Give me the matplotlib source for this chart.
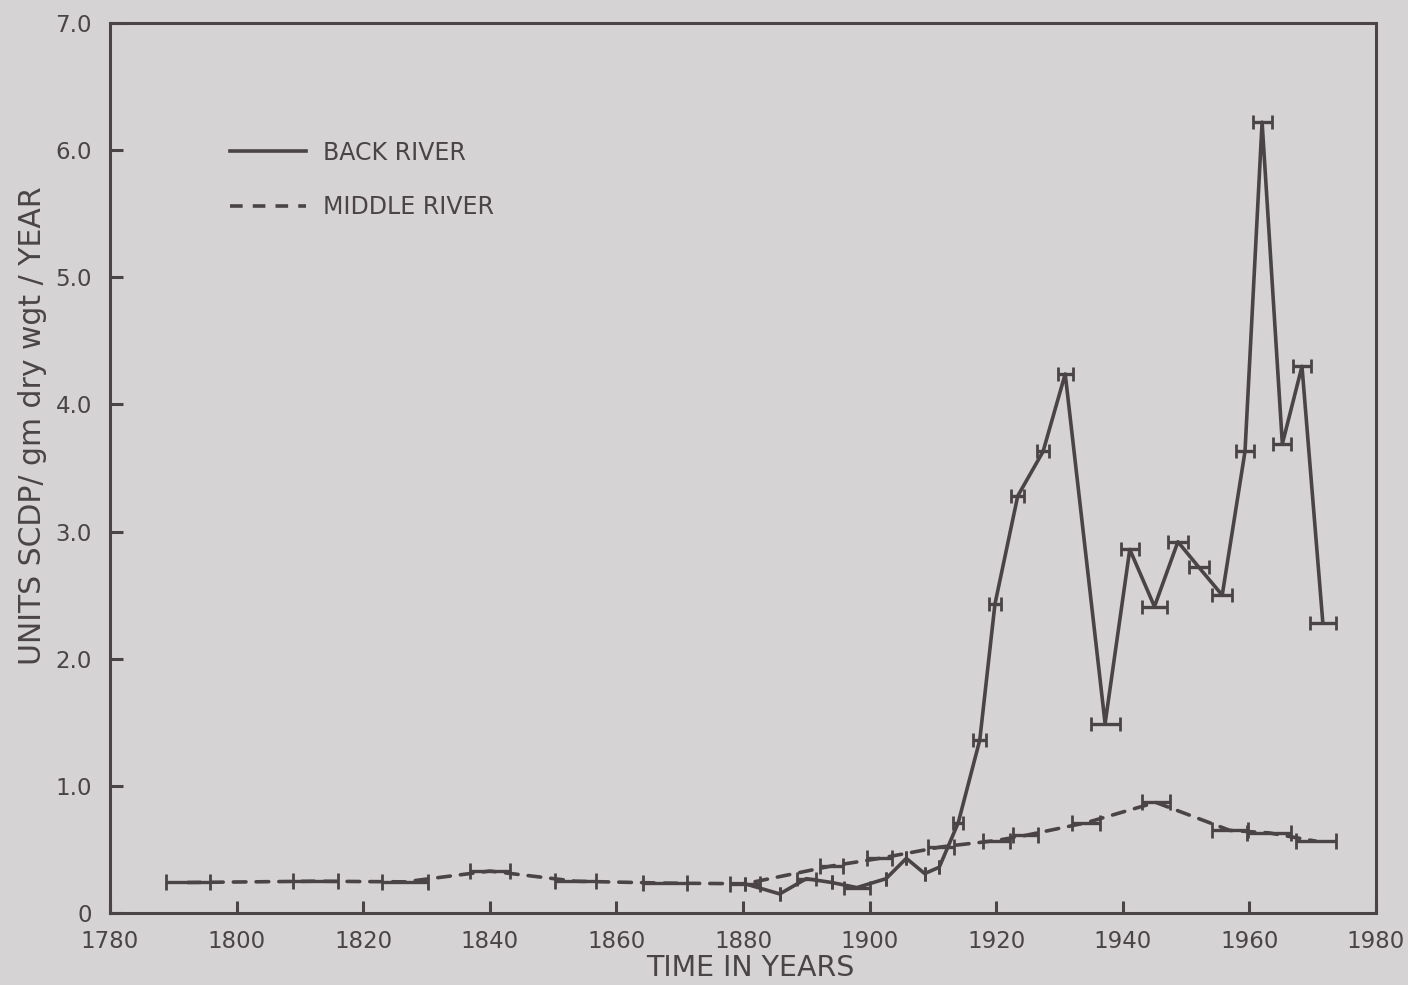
import matplotlib
matplotlib.use("Agg")
import matplotlib.pyplot as plt
from matplotlib.lines import Line2D

# ---- data ----
back_years = [1880.3, 1885.8, 1890.0, 1894.0, 1898.0, 1902.6, 1905.8, 1908.7, 1911.0,
              1914.0, 1917.4, 1919.8, 1923.4, 1927.4, 1930.9, 1937.2, 1941.1, 1945.0,
              1948.7, 1952.0, 1955.7, 1959.3, 1962.0, 1965.2, 1968.3, 1971.6]
back_vals = [0.23, 0.15, 0.27, 0.24, 0.20, 0.27, 0.43, 0.31, 0.36,
             0.71, 1.36, 2.43, 3.28, 3.63, 4.24, 1.49, 2.86, 2.41,
             2.92, 2.72, 2.50, 3.63, 6.22, 3.69, 4.30, 2.28]
back_xerr = [0.0, 0.0, 1.5, 0.0, 2.1, 0.0, 0.0, 0.0, 0.0,
             0.8, 1.0, 1.0, 1.0, 1.0, 1.2, 2.3, 1.4, 1.9,
             1.6, 1.6, 1.6, 1.4, 1.5, 1.4, 1.4, 2.0]

mid_years = [1792.3, 1812.5, 1826.6, 1840.0, 1853.5, 1867.7, 1880.3, 1894.0, 1901.6,
             1911.3, 1920.0, 1924.6, 1934.2, 1945.2, 1956.9, 1963.1, 1970.5]
mid_vals = [0.24, 0.25, 0.245, 0.33, 0.25, 0.235, 0.23, 0.37, 0.43,
            0.52, 0.57, 0.61, 0.71, 0.87, 0.65, 0.63, 0.565]
mid_xerr = [3.5, 3.6, 3.6, 3.2, 3.2, 3.5, 2.4, 1.8, 2.0,
            2.1, 2.1, 2.0, 2.2, 2.2, 2.8, 3.5, 3.2]

x_ticks = [1780, 1800, 1820, 1840, 1860, 1880, 1900, 1920, 1940, 1960, 1980]
y_ticks = [0, 1, 2, 3, 4, 5, 6, 7]
y_ticklabels = ["0", "1.0", "2.0", "3.0", "4.0", "5.0", "6.0", "7.0"]
series_labels = ["BACK RIVER", "MIDDLE RIVER"]

BG = "#d6d3d4"
INK = "#4a4446"

plt.rcParams["font.family"] = ["DejaVu Sans"]

fig = plt.figure(figsize=(14.08, 9.85), dpi=100, facecolor=BG)
ax = fig.add_axes([0.0781, 0.0731, 0.8992, 0.9035])
ax.set_facecolor(BG)

# Middle river: dashed connecting line + solid horizontal error bars
ax.plot(mid_years, mid_vals, color=INK, lw=2.6, linestyle=(0, (3.5, 2.8)),
        dash_capstyle="round", zorder=2)
ax.errorbar(mid_years, mid_vals, xerr=mid_xerr, fmt="none", ecolor=INK,
            elinewidth=2.4, capsize=6, capthick=2, zorder=3)

# Back river: solid line + error bars
ax.plot(back_years, back_vals, color=INK, lw=2.6, zorder=4)
ax.errorbar(back_years, back_vals, xerr=back_xerr, fmt="none", ecolor=INK,
            elinewidth=2.4, capsize=5, capthick=2, zorder=5)

ax.set_xlim(x_ticks[0], x_ticks[-1])
ax.set_ylim(y_ticks[0], y_ticks[-1])
ax.set_xticks(x_ticks)
ax.set_xticklabels([str(t) for t in x_ticks])
ax.set_yticks(y_ticks)
ax.set_yticklabels(y_ticklabels)

for s in ax.spines.values():
    s.set_color(INK)
    s.set_linewidth(2.2)

ax.tick_params(axis="both", direction="in", length=9, width=2.2, colors=INK,
               labelsize=16.5, labelcolor=INK)
ax.tick_params(axis="x", pad=12)
ax.tick_params(axis="y", pad=13)

ax.set_xlabel("TIME IN YEARS", fontsize=20.5, color=INK)
ax.xaxis.set_label_coords(0.5055, -0.046)
ax.xaxis.label.set_va("top")
ax.set_ylabel("UNITS SCDP/ gm dry wgt / YEAR", fontsize=21.5, color=INK)
ax.yaxis.set_label_coords(-0.05, 0.548)

handles = [Line2D([], [], color=INK, lw=2.6),
           Line2D([], [], color=INK, lw=2.6, linestyle=(0, (3.5, 2.8)))]
leg = ax.legend(handles, series_labels, loc="upper left",
                bbox_to_anchor=(0.0948, 0.868), frameon=False, borderpad=0,
                borderaxespad=0, handlelength=3.2, handletextpad=0.75,
                labelspacing=1.3, fontsize=17)
for t in leg.get_texts():
    t.set_color(INK)

fig.savefig("out.png", dpi=100, facecolor=BG)
